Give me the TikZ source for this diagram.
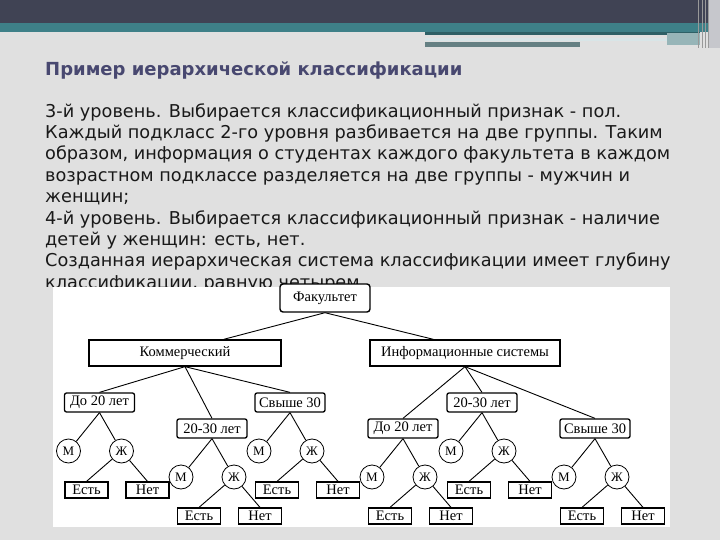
\documentclass[tikz,border=0pt]{standalone}
\usepackage{fontspec}
\setmainfont{Liberation Serif}
\newfontfamily\slidefont{DejaVu Sans}
\usetikzlibrary{calc,positioning}

\definecolor{slidebg}{RGB}{224,224,224}
\definecolor{headdark}{RGB}{64,67,84}
\definecolor{headteal}{RGB}{62,128,136}
\definecolor{titleblue}{RGB}{72,72,112}
\definecolor{bodytext}{RGB}{25,25,25}

\begin{document}
\begin{tikzpicture}
  [x=1pt,y=-1pt]

% define styles
\tikzstyle{root} = [draw, line width=1.4pt, rounded corners=3pt, minimum width=90pt, minimum height=28pt, inner sep=1pt];
\tikzstyle{faculty} = [draw, line width=1.3pt, minimum width=192pt, minimum height=26pt, inner sep=1pt];
\tikzstyle{age} = [draw, line width=1.3pt, rounded corners=2pt, minimum width=70pt, minimum height=19pt, inner sep=1pt];
\tikzstyle{sex} = [draw, circle, line width=0.8pt, minimum size=24pt, inner sep=0pt, font=\fontsize{13}{13}\selectfont];
\tikzstyle{leaf} = [draw, line width=1.2pt, minimum width=43pt, minimum height=16pt, inner sep=1pt];
\tikzstyle{link} = [line width=0.9pt];

% define new commands
\newcommand{\ageSplit}[1]{
  \node[sex] (#1m) at ($(#1)+(-31,48.5)$) {М};
  \node[sex] (#1f) at ($(#1)+(22,48.5)$) {Ж};
  \node[leaf] (#1y) at ($(#1f)+(-35,39)$) {Есть};
  \node[leaf] (#1n) at ($(#1f)+(26,39)$) {Нет};
  \draw[link] (#1.south) -- (#1m);
  \draw[link] (#1.south) -- (#1f);
  \draw[link] (#1f) -- (#1y.north);
  \draw[link] (#1f) -- (#1n.north);
}

% slide background and header
\useasboundingbox (0,0) rectangle (720,540);
\fill[slidebg] (0,0) rectangle (720,540);
\fill[headdark] (0,0) rectangle (708,23);
\fill[headteal] (0,23) rectangle (708,32);
\fill[headteal!75!black] (425,32) rectangle (700,35);
\fill[headteal!45!slidebg] (667,33) rectangle (700,45);
\fill[white!80!headteal] (425,38) rectangle (667,41);
\fill[headteal!40!gray] (425,42) rectangle (580,47);
\fill[headdark!30!white] (708,0) rectangle (720,48);
\foreach \x in {698,702,705,708}
  \draw[gray!80, line width=0.8pt] (\x,0) -- (\x,48);

% title and text
\node[anchor=base west, inner sep=0pt, text=titleblue, font=\slidefont\bfseries\fontsize{18}{21}\selectfont]
  (title) at (45,76) {Пример иерархической классификации};

\begin{scope}
\clip (0,0) rectangle (720,286);
\node[anchor=base west, align=left, inner sep=0pt, text=bodytext, font=\slidefont\fontsize{17.7}{21.4}\selectfont]
  (body) at (45,288.2) {3-й уровень. Выбирается классификационный признак - пол.\\
Каждый подкласс 2-го уровня разбивается на две группы. Таким\\
образом, информация о студентах каждого факультета в каждом\\
возрастном подклассе разделяется на две группы - мужчин и\\
женщин;\\
4-й уровень. Выбирается классификационный признак - наличие\\
детей у женщин: есть, нет.\\
Созданная иерархическая система классификации имеет глубину\\
классификации, равную четырем.};
\end{scope}

% picture area
\fill[white] (53,287) rectangle (670,527);

\begin{scope}[font=\fontsize{14.5}{16}\selectfont]
% draw nodes
\node[root, fill=white] (fak) at (325,298) {Факультет};
\node[faculty] (kom) at (185,353) {Коммерческий};
\node[faculty, minimum width=190pt] (inf) at (465,353) {Информационные системы};

\node[age] (kom1) at (99.5,402.5) {До 20 лет};
\node[age] (kom2) at (212,428.5) {20-30 лет};
\node[age] (kom3) at (290,402.5) {Свыше 30};
\node[age] (inf1) at (403,428.5) {До 20 лет};
\node[age] (inf2) at (482,402.5) {20-30 лет};
\node[age] (inf3) at (595,428.5) {Свыше 30};

% draw edges
\draw[link] (fak.south) -- ($(kom.north)!0.4!(kom.north east)$);
\draw[link] (fak.south) -- ($(inf.north)!0.33!(inf.north west)$);
\foreach \g in {kom1,kom2,kom3}
  \draw[link] (kom.south) -- (\g.north);
\foreach \g in {inf1,inf2,inf3}
  \draw[link] (inf.south) -- (\g.north);

% sex and children
\foreach \g in {kom1,kom2,kom3,inf1,inf2,inf3}{
  \ageSplit{\g}
}
\end{scope}

\end{tikzpicture}
\end{document}
